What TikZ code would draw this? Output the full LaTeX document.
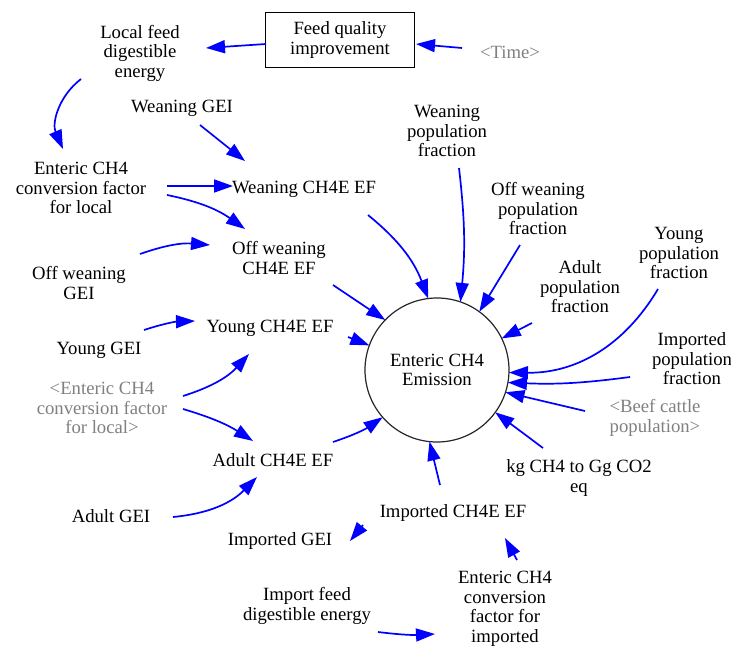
\documentclass[tikz,border=0pt]{standalone}
\usepackage{fontspec}
\setmainfont{Liberation Serif}
\usetikzlibrary{arrows.meta}
\definecolor{vblue}{RGB}{0,0,255}
\definecolor{vgray}{RGB}{128,128,128}
\begin{document}
\begin{tikzpicture}[x=1pt,y=-1pt,
  lbl/.style={align=center,inner sep=1pt,font=\rmfamily\fontsize{18.7}{19.5}\selectfont},
  glbl/.style={lbl,text=vgray},
  arr/.style={draw=vblue,line width=1.7pt,-{Triangle[length=19pt,width=13pt]}}]
\useasboundingbox (0,0) rectangle (731,648);

% nodes
\node[lbl,draw,line width=1.2pt,fill=white,minimum width=149pt,minimum height=55pt] (fq) at (340,40) {Feed quality\\improvement};
\node[glbl] (time) at (510,52) {<Time>};
\node[lbl] (lf) at (140,53) {Local feed\\digestible\\energy};
\node[lbl] (wGEI) at (182,108) {Weaning GEI};
\node[lbl] (convL) at (81,188) {Enteric CH4\\conversion factor\\for local};
\node[lbl] (wEF) at (304,189) {Weaning CH4E EF};
\node[lbl] (wPop) at (447,131) {Weaning\\population\\fraction};
\node[lbl] (owPop) at (538,209) {Off weaning\\population\\fraction};
\node[lbl] (owEF) at (279,258) {Off weaning\\CH4E EF};
\node[lbl] (owGEI) at (79,283) {Off weaning\\GEI};
\node[lbl] (yPop) at (679,253) {Young\\population\\fraction};
\node[lbl] (aPop) at (580,287) {Adult\\population\\fraction};
\node[lbl] (yEF) at (270,328) {Young CH4E EF};
\node[lbl] (yGEI) at (99,350) {Young GEI};
\node[glbl] (convL2) at (102,408) {<Enteric CH4\\conversion factor\\for local>};
\node[lbl] (iPop) at (692,359) {Imported\\population\\fraction};
\node[lbl,circle,draw=black!85,line width=1.2pt,minimum size=144pt,inner sep=0pt,outer sep=0pt] (emis) at (437,370) {Enteric CH4\\Emission};
\node[glbl] (beef) at (655,418) {<Beef cattle\\population>};
\node[lbl] (aEF) at (273,460) {Adult CH4E EF};
\node[lbl] (kg) at (579,478) {kg CH4 to Gg CO2\\eq};
\node[lbl] (aGEI) at (111,516) {Adult GEI};
\node[lbl] (iEF) at (453,513) {Imported CH4E EF};
\node[lbl] (iGEI) at (280,541) {Imported GEI};
\node[lbl] (iFeed) at (307,606) {Import feed\\digestible energy};
\node[lbl] (convI) at (505,609) {Enteric CH4\\conversion\\factor for\\imported};

% connectors
\draw[arr] ([shift={(-74,4)}]fq.center) -- ([shift={(66,-5)}]lf.center);
\draw[arr] ([shift={(-48,-4)}]time.center) -- ([shift={(76,4)}]fq.center);
\draw[arr] ([shift={(-59,26)}]lf.center) to[bend right=38] ([shift={(-18,-39)}]convL.center);
\draw[arr] ([shift={(18,17)}]wGEI.center) -- ([shift={(-59,-28)}]wEF.center);
\draw[arr] ([shift={(86,-2)}]convL.center) -- ([shift={(-71,-3)}]wEF.center);
\draw[arr] ([shift={(86,7)}]convL.center) to[bend left=12] ([shift={(-34,-29)}]owEF.center);
\draw[arr] ([shift={(61,-29)}]owGEI.center) to[bend left=12] ([shift={(-69,-13)}]owEF.center);
\draw[arr] ([shift={(45,-20)}]yGEI.center) to[bend left=8] ([shift={(-75,-7)}]yEF.center);
\draw[arr] ([shift={(81,-12)}]convL2.center) to[bend right=15] ([shift={(-21,26)}]yEF.center);
\draw[arr] ([shift={(81,1)}]convL2.center) to[bend left=8] ([shift={(-20,-19)}]aEF.center);
\draw[arr] ([shift={(62,1)}]aGEI.center) to[bend right=20] ([shift={(-16,17)}]aEF.center);
\draw[arr] ([shift={(60,-18)}]aEF.center) to[bend right=8] (emis.221);
\draw[arr] ([shift={(-13,-28)}]iEF.center) -- (emis.264);
\draw[arr] ([shift={(-90,12)}]iEF.center) -- ([shift={(70,0)}]iGEI.center);
\draw[arr] ([shift={(12,-49)}]convI.center) -- ([shift={(52,25)}]iEF.center);
\draw[arr] ([shift={(71,26)}]iFeed.center) to[bend right=5] ([shift={(-70,25)}]convI.center);
\draw[arr] ([shift={(64,26)}]wEF.center) to[bend left=15] (emis.97);
\draw[arr] ([shift={(12,37)}]wPop.center) to[bend left=6] (emis.71);
\draw[arr] ([shift={(-18,36)}]owPop.center) -- (emis.54);
\draw[arr] ([shift={(-48,36)}]aPop.center) -- (emis.26);
\draw[arr] ([shift={(-21,36)}]yPop.center) to[bend left=30] (emis.-2);
\draw[arr] ([shift={(-62,18)}]iPop.center) to[bend left=5] (emis.-10);
\draw[arr] ([shift={(-70,-7)}]beef.center) -- (emis.-18);
\draw[arr] ([shift={(-36,-30)}]kg.center) -- (emis.-36);
\draw[arr] ([shift={(54,27)}]owEF.center) -- (emis.136);
\draw[arr] ([shift={(78,9)}]yEF.center) -- (emis.160);
\end{tikzpicture}
\end{document}
